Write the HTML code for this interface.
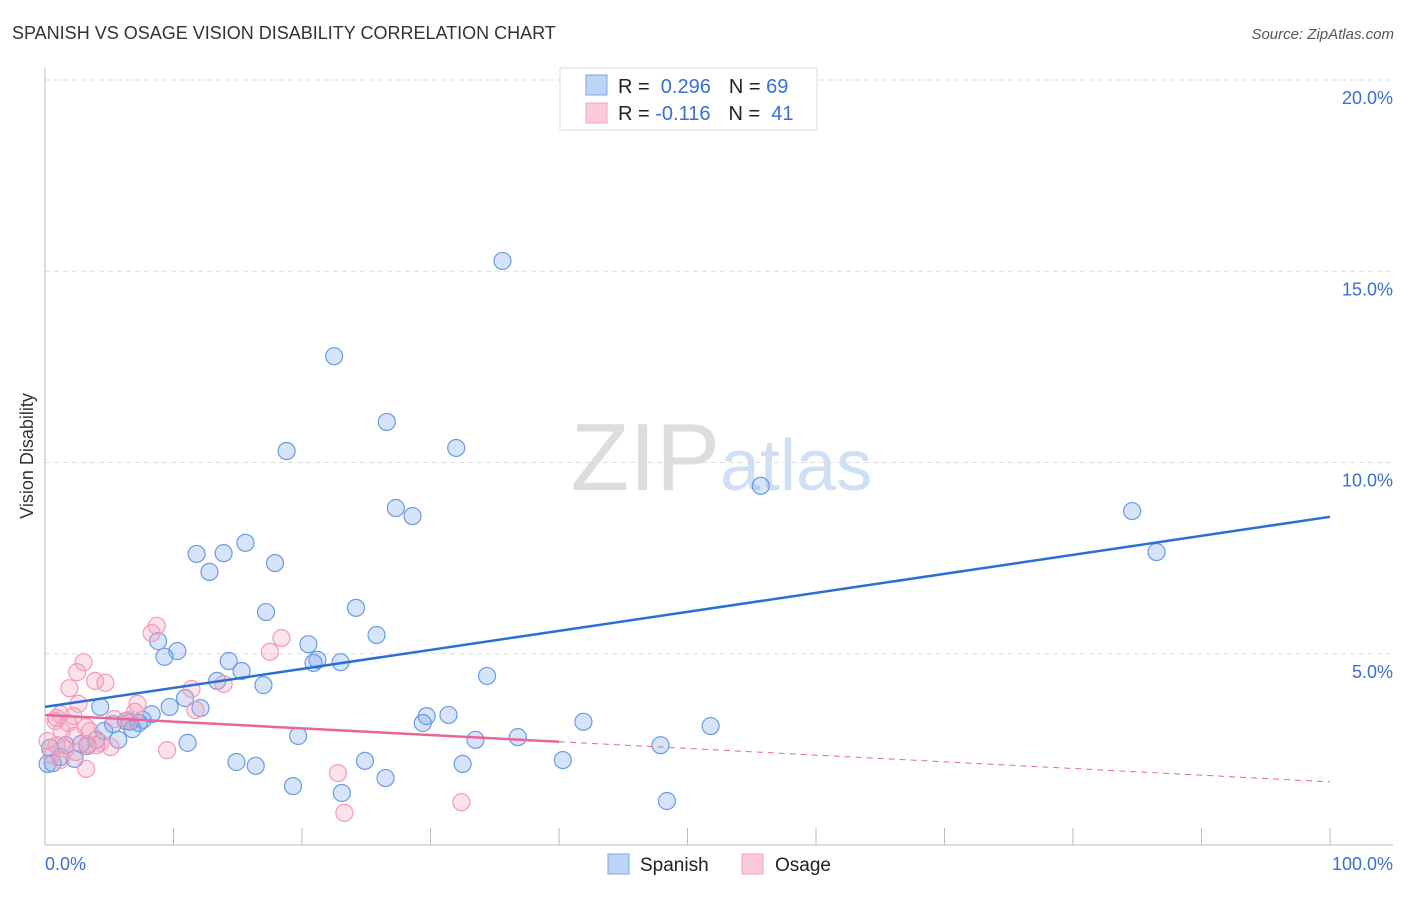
<!DOCTYPE html>
<html><head><meta charset="utf-8"><style>
body{margin:0;background:#fff;font-family:"Liberation Sans",sans-serif;}
svg text{font-family:"Liberation Sans",sans-serif;}
</style></head><body>
<svg id="chart" width="1406" height="892" viewBox="0 0 1406 892">
<text x="12" y="39" font-size="18" fill="#333">SPANISH VS OSAGE VISION DISABILITY CORRELATION CHART</text>
<text x="1394" y="39" font-size="15" fill="#555" font-style="italic" text-anchor="end">Source: ZipAtlas.com</text>
<text x="720" y="490" font-size="96" fill="#ddd" text-anchor="end" font-family="Liberation Serif">ZIP</text>
<text x="720" y="490" font-size="72" fill="#cfe0f5">atlas</text>
<g id="grid"></g>
<g id="axes"></g>
<text transform="translate(33,456) rotate(-90)" font-size="18" fill="#333" text-anchor="middle">Vision Disability</text>
<text x="45" y="870" font-size="18" fill="#3a6fd0">0.0%</text>
<text x="1393" y="870" font-size="18" fill="#3a6fd0" text-anchor="end">100.0%</text>
<g id="points"></g>
<g id="trends"></g>
<g>
<rect x="560" y="68" width="257" height="62" fill="#fff" stroke="#ddd"/>
<rect x="586" y="75" width="21" height="20" fill="#bcd4f5" stroke="#7ba6e6"/>
<rect x="586" y="103" width="21" height="20" fill="#fbcbd9" stroke="#f4a3bd"/>
<text x="618" y="93" font-size="20" fill="#222">R = <tspan fill="#3a6fd0">&#160;0.296</tspan><tspan dx="18">N = </tspan><tspan fill="#3a6fd0">69</tspan></text>
<text x="618" y="120" font-size="20" fill="#222">R = <tspan fill="#3a6fd0">-0.116</tspan><tspan dx="18">N = </tspan><tspan fill="#3a6fd0">&#160;41</tspan></text>
</g>
<g>
<rect x="608" y="854" width="21" height="20" fill="#bcd4f5" stroke="#7ba6e6"/>
<text x="640" y="871" font-size="19" fill="#222">Spanish</text>
<rect x="742" y="854" width="21" height="20" fill="#fbcbd9" stroke="#f4a3bd"/>
<text x="775" y="871" font-size="19" fill="#222">Osage</text>
</g>
</svg>
<script>
const yTicks=[5,10,15,20];
const yTickLabels=["5.0%","10.0%","15.0%","20.0%"];
const xTicks=[0,10,20,30,40,50,60,70,80,90,100];
const spanishX=[35.6,22.5,26.6,18.8,32.0,55.7,27.3,28.6,84.6,86.5,15.6,11.8,13.9,12.8,17.9,17.2,24.2,25.8,8.8,10.3,9.3,20.5,14.3,21.2,20.9,23.0,15.3,17.0,34.4,13.4,10.9,9.7,12.1,4.3,8.3,7.6,6.6,5.3,6.3,7.3,41.9,51.8,29.7,31.4,29.4,6.8,4.6,5.7,4.0,2.8,1.6,3.3,11.1,19.7,33.5,36.8,47.9,0.4,1.2,2.3,0.6,0.2,14.9,16.4,24.9,32.5,40.3,26.5,19.3,23.1,48.4];
const spanishY=[15.27,12.78,11.06,10.30,10.38,9.39,8.81,8.60,8.73,7.66,7.90,7.61,7.63,7.14,7.37,6.09,6.20,5.49,5.33,5.07,4.92,5.25,4.81,4.84,4.76,4.78,4.55,4.18,4.42,4.29,3.84,3.61,3.58,3.61,3.42,3.27,3.22,3.16,3.24,3.19,3.22,3.11,3.37,3.40,3.19,3.03,2.98,2.75,2.75,2.64,2.61,2.59,2.67,2.85,2.75,2.82,2.61,2.54,2.30,2.25,2.14,2.12,2.17,2.07,2.20,2.12,2.22,1.75,1.54,1.36,1.15];
const osageX=[8.7,8.3,18.4,17.5,3.0,2.5,1.9,3.9,4.7,11.4,13.9,7.2,2.6,7.0,11.7,1.2,2.2,0.9,1.8,0.8,3.2,5.4,6.5,1.3,2.3,3.5,4.3,0.9,0.2,1.6,2.4,5.1,3.3,9.5,1.2,3.2,22.8,32.4,23.3,0.5,4.0];
const osageY=[5.73,5.54,5.41,5.05,4.78,4.52,4.10,4.29,4.24,4.08,4.21,3.69,3.69,3.48,3.53,3.42,3.37,3.32,3.19,3.24,3.08,3.29,3.27,2.98,2.85,2.98,2.67,2.61,2.72,2.51,2.43,2.56,2.64,2.48,2.22,1.99,1.88,1.12,0.84,2.35,2.61];
const spanishTrend=[3.61,8.58];
const osageTrend=[3.40,1.65];
const osageSolidEnd=40;

const NS="http://www.w3.org/2000/svg";
const X0=45,X1=1330,Y0=845,PXPER=38.25;
function sx(v){return X0+(X1-X0)*v/100;}
function sy(v){return Y0-v*PXPER;}
function mk(tag,attrs,parent){const e=document.createElementNS(NS,tag);for(const k in attrs)e.setAttribute(k,attrs[k]);parent.appendChild(e);return e;}
const grid=document.getElementById('grid'),axes=document.getElementById('axes'),pts=document.getElementById('points'),tr=document.getElementById('trends');
yTicks.forEach((t,i)=>{
 const l=mk('line',{x1:45,x2:1393,y1:sy(t),y2:sy(t),stroke:'#ddd','stroke-dasharray':'5,4'},grid);
 
 
 const tx=mk('text',{x:1393,y:sy(t)+24,'font-size':18,fill:'#3a6fd0','text-anchor':'end'},grid);
 tx.textContent=yTickLabels[i];
 
 
});
const ya=mk('line',{x1:45,x2:45,y1:68,y2:845,stroke:'#bbb'},axes);


const xa=mk('line',{x1:45,x2:1393,y1:845,y2:845,stroke:'#bbb'},axes);


xTicks.forEach(t=>{
 const l=mk('line',{x1:sx(t),x2:sx(t),y1:828,y2:845,stroke:'#bbb'},axes);
 
 
});
spanishX.forEach((x,i)=>{
 const c=mk('circle',{cx:sx(x),cy:sy(spanishY[i]),r:8.5,fill:'rgba(120,165,235,0.3)',stroke:'#6b9be2','stroke-width':1.2},pts);
 
 
});
osageX.forEach((x,i)=>{
 const c=mk('circle',{cx:sx(x),cy:sy(osageY[i]),r:8.5,fill:'rgba(245,160,190,0.3)',stroke:'#f29bb8','stroke-width':1.2},pts);
 
 
});
const bt=mk('line',{x1:sx(0),y1:sy(spanishTrend[0]),x2:sx(100),y2:sy(spanishTrend[1]),stroke:'#2a6fd6','stroke-width':2.5},tr);


const oy=x=>osageTrend[0]+(osageTrend[1]-osageTrend[0])*x/100;
const ot=mk('line',{x1:sx(0),y1:sy(oy(0)),x2:sx(osageSolidEnd),y2:sy(oy(osageSolidEnd)),stroke:'#e8669a','stroke-width':2.5},tr);


const od=mk('line',{x1:sx(osageSolidEnd),y1:sy(oy(osageSolidEnd)),x2:sx(100),y2:sy(oy(100)),stroke:'#e8669a','stroke-width':1,'stroke-dasharray':'6,5'},tr);


</script>
</body></html>
